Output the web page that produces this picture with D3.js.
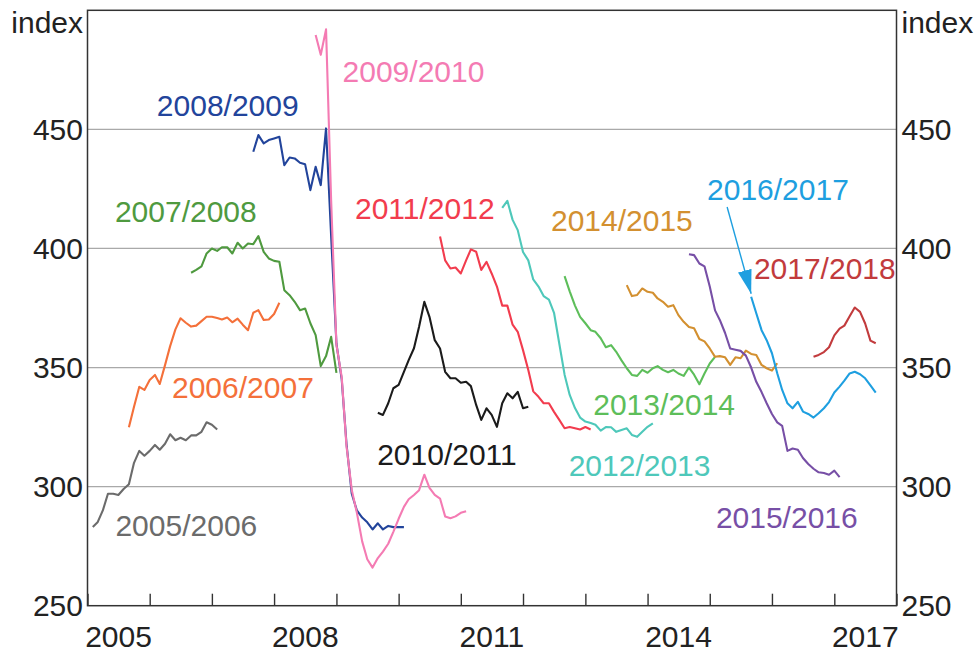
<!DOCTYPE html>
<html>
<head>
<meta charset="utf-8">
<script src="https://cdn.jsdelivr.net/npm/d3@7"></script>
<style>
  body { margin: 0; background: #fff; }
  svg { display: block; }
  text { font-family: "Liberation Sans", Arial, Helvetica, sans-serif; }
</style>
</head>
<body>
<svg id="chart" width="977" height="652"></svg>
<script>
// Monthly index values for each financial-year contract, first value at the start month below
const fy2005_06 = [283, 285, 290, 297, 297, 296.5, 299, 301, 310, 315, 313, 315, 317.5, 315.5, 318, 322, 319.5, 320.5, 319.5, 321.5, 321.5, 323, 327, 326, 324];
const fy2006_07 = [324.9, 333.5, 341.9, 340.6, 344.8, 346.9, 343.1, 351, 359, 366, 370.7, 368.8, 367.2, 367.6, 369.5, 371.3, 371.3, 370.8, 370.2, 371, 369, 370.5, 368, 365.7, 373, 374.1, 370, 370.2, 372.5, 377.2];
const fy2007_08 = [389.8, 391, 392.5, 397.9, 400, 399, 400.5, 400.5, 397.9, 402.4, 400, 402.1, 401.8, 405.2, 398.6, 395.8, 394.8, 394.4, 382.5, 380.4, 377.6, 374.1, 374.8, 368.6, 363.6, 350.6, 354.8, 362.9, 347.8];
const fy2008_09 = [440.6, 447.6, 444.1, 445.5, 446.2, 446.9, 435, 438.2, 437.8, 436, 435.4, 424.5, 434.3, 426.6, 450.4, 405, 360, 345, 318, 297, 290, 287, 285, 282, 284.6, 282, 283.5, 283, 283, 283];
const fy2009_10 = [489.6, 481.3, 492, 420, 359.5, 346, 317, 298.6, 289, 277, 269.5, 266, 270, 272.7, 276, 281, 286.5, 291.5, 294.7, 296.5, 298.5, 305, 299.5, 296.5, 295, 287.5, 286.7, 287.5, 289, 289.7];
const fy2010_11 = [331, 330.1, 335, 341.3, 342.7, 348.2, 353.1, 358.1, 367.1, 377.6, 371.3, 361.5, 358, 348.2, 345.5, 345.5, 343.6, 344, 342.2, 334.3, 328, 332.9, 330.1, 325.1, 335, 339.2, 337.1, 339.8, 332.9, 333.5];
const fy2011_12 = [405, 395, 391.6, 392, 389.5, 395, 399.6, 398.6, 391, 394.4, 389.5, 384, 376, 376, 368, 365, 357.3, 349, 340, 337.7, 335, 335, 331.4, 328, 324.5, 325, 324.5, 324, 325, 324];
const fy2012_13 = [417, 420, 412, 407.7, 398.5, 395, 387, 384, 380, 378.5, 373, 360, 347, 338.5, 333, 329, 327.3, 326.7, 326, 323.5, 325, 324.9, 323, 323.8, 324.5, 321.7, 320.9, 323, 325.1, 326.6];
const fy2013_14 = [388.4, 382, 376, 371.3, 368.6, 365.7, 365, 362.3, 358.5, 359.4, 356.6, 353, 349.7, 346.9, 346.5, 349, 347.8, 349.7, 350.6, 349, 348, 349, 347.5, 346.5, 350, 347, 343, 347.5, 351.7, 354.5];
const fy2014_15 = [384.6, 380, 380.5, 383.2, 381.8, 381.4, 379, 377.6, 375.5, 376.2, 372, 369.2, 367, 366.5, 362, 361, 358, 354.5, 354.8, 354.3, 351.1, 354.3, 353.9, 357.1, 355.7, 355.3, 351.1, 349.7, 348.7, 351.8];
const fy2015_16 = [397.6, 397.2, 393.7, 392.5, 384, 374, 370, 364.5, 358, 357.5, 357, 355, 350, 344, 339.7, 335, 330.5, 327, 325.5, 315, 316, 315.5, 312, 309.5, 307.5, 306, 305.7, 305, 306.7, 304];
const fy2016_17 = [379.7, 372.8, 365.7, 361.5, 356, 347.6, 340.6, 335, 332.9, 335.6, 331.5, 330.5, 329, 330.8, 332.9, 335.5, 339.5, 342, 344.5, 347.5, 348.2, 347.2, 345.5, 342.5, 339.5];
const fy2017_18 = [354.5, 355.3, 356.5, 358.5, 363.5, 366.3, 367.6, 371.5, 375.2, 373.4, 368.5, 361.3, 360.2];

const seriesNames  = ["2005/2006", "2006/2007", "2007/2008", "2008/2009", "2009/2010", "2010/2011", "2011/2012",
                      "2012/2013", "2013/2014", "2014/2015", "2015/2016", "2016/2017", "2017/2018"];
const seriesStarts = ["2005-02", "2005-09", "2006-09", "2007-09", "2008-09", "2009-09", "2010-09",
                      "2011-09", "2012-09", "2013-09", "2014-09", "2015-09", "2016-09"];
const seriesValues = [fy2005_06, fy2006_07, fy2007_08, fy2008_09, fy2009_10, fy2010_11, fy2011_12,
                      fy2012_13, fy2013_14, fy2014_15, fy2015_16, fy2016_17, fy2017_18];

// Axis ticks
const yTicks = [250, 300, 350, 400, 450];
const yGrid = [300, 350, 400, 450];
const xLabelYears = [2005, 2008, 2011, 2014, 2017];

// Line colours, one per contract year
const colours = {
  "2005/2006": "#6b6b6b", "2006/2007": "#f4703a", "2007/2008": "#4f9a3f", "2008/2009": "#22449b",
  "2009/2010": "#f47bb3", "2010/2011": "#1b1b1b", "2011/2012": "#f23c4e", "2012/2013": "#4ec8ba",
  "2013/2014": "#5dbe5a", "2014/2015": "#d39030", "2015/2016": "#774fa6", "2016/2017": "#1e9fe0",
  "2017/2018": "#c23b3d"
};

// Series label anchors: [decimal year of text start, baseline value]
const labelAnchors = {
  "2005/2006": [2005.45, 279.3], "2006/2007": [2006.36, 337.1], "2007/2008": [2005.44, 411.2],
  "2008/2009": [2006.115, 455.6], "2009/2010": [2009.10, 470], "2010/2011": [2009.655, 309.1],
  "2011/2012": [2009.30, 412.2], "2012/2013": [2012.735, 304.5], "2013/2014": [2013.125, 330.1],
  "2014/2015": [2012.45, 407.4], "2015/2016": [2015.10, 282.6], "2016/2017": [2014.955, 420.3],
  "2017/2018": [2015.71, 387]
};

// Pointer from the 2016/2017 label to the start of its line
const arrowFrom = [2015.28, 417.4];

const W = 977, H = 652;
const plot = { left: 87.5, right: 896.5, top: 10.3, bottom: 605.7 };
const FONT = 30;

const svg = d3.select("#chart");
const parseMonth = d3.timeParse("%Y-%m");
const fromDecimal = y => {
  const y0 = Math.floor(y);
  return new Date(y0, 0, 1 + Math.round((y - y0) * 365));
};

const x = d3.scaleTime()
  .domain([new Date(2005, 0, 1), new Date(2018, 0, 1)])
  .range([plot.left, plot.right]);
const y = d3.scaleLinear()
  .domain([250, 500])
  .range([plot.bottom, plot.top]);

// Horizontal gridlines
svg.append("g")
  .selectAll("line")
  .data(yGrid)
  .join("line")
  .attr("x1", plot.left).attr("x2", plot.right)
  .attr("y1", d => y(d)).attr("y2", d => y(d))
  .attr("stroke", "#a9a9a9").attr("stroke-width", 1.3);

// Year tick marks along the bottom, pointing into the plot
const xAxis = d3.axisBottom(x)
  .ticks(d3.timeYear.every(1))
  .tickSizeInner(-12).tickSizeOuter(0)
  .tickFormat("");
const gx = svg.append("g")
  .attr("transform", `translate(0,${plot.bottom})`)
  .call(xAxis);
gx.select(".domain").remove();
gx.selectAll(".tick line").attr("stroke", "#333").attr("stroke-width", 1.4);

// Year labels centred on each year
svg.append("g")
  .selectAll("text")
  .data(xLabelYears)
  .join("text")
  .attr("x", d => x(new Date(d, 6, 2)))
  .attr("y", 647)
  .attr("text-anchor", "middle")
  .attr("font-size", FONT)
  .attr("fill", "#222")
  .text(d => d);

// Left and right value labels
const yLabels = svg.append("g").attr("font-size", FONT).attr("fill", "#222");
yLabels.selectAll("text.l")
  .data(yTicks).join("text").attr("class", "l")
  .attr("x", 83).attr("y", d => y(d)).attr("dy", "0.35em")
  .attr("text-anchor", "end").text(d => d);
yLabels.selectAll("text.r")
  .data(yTicks).join("text").attr("class", "r")
  .attr("x", 901.5).attr("y", d => y(d)).attr("dy", "0.35em")
  .attr("text-anchor", "start").text(d => d);
yLabels.append("text").attr("x", 83).attr("y", 33).attr("text-anchor", "end").text("index");
yLabels.append("text").attr("x", 901.5).attr("y", 33).attr("text-anchor", "start").text("index");

// Contract lines
const series = seriesNames.map((name, i) => {
  const start = parseMonth(seriesStarts[i]);
  return {
    name,
    points: seriesValues[i].map((v, j) => ({ date: d3.timeMonth.offset(start, j), value: v }))
  };
});

const line = d3.line()
  .x(d => x(d.date))
  .y(d => y(d.value));

svg.append("g")
  .selectAll("path")
  .data(series)
  .join("path")
  .attr("d", d => line(d.points))
  .attr("fill", "none")
  .attr("stroke", d => colours[d.name])
  .attr("stroke-width", 2.1)
  .attr("stroke-linejoin", "round");

// Series labels
svg.append("g")
  .selectAll("text")
  .data(seriesNames)
  .join("text")
  .attr("x", d => x(fromDecimal(labelAnchors[d][0])))
  .attr("y", d => y(labelAnchors[d][1]))
  .attr("font-size", FONT)
  .attr("fill", d => colours[d])
  .text(d => d);

// Arrow to the first 2016/2017 observation
const arrowColour = colours["2016/2017"];
svg.append("defs").append("marker")
  .attr("id", "head")
  .attr("markerUnits", "userSpaceOnUse")
  .attr("viewBox", "0 0 24 14")
  .attr("refX", 24).attr("refY", 7)
  .attr("markerWidth", 24).attr("markerHeight", 14)
  .attr("orient", "auto")
  .append("path")
  .attr("d", "M0,0 L24,7 L0,14 Z")
  .attr("fill", arrowColour);

const target = series[11].points[0];
svg.append("line")
  .attr("x1", x(fromDecimal(arrowFrom[0])))
  .attr("y1", y(arrowFrom[1]))
  .attr("x2", x(target.date))
  .attr("y2", y(target.value) - 3)
  .attr("stroke", arrowColour)
  .attr("stroke-width", 1.4)
  .attr("marker-end", "url(#head)");

// Plot frame
svg.append("rect")
  .attr("x", plot.left).attr("y", plot.top)
  .attr("width", plot.right - plot.left)
  .attr("height", plot.bottom - plot.top)
  .attr("fill", "none")
  .attr("stroke", "#333")
  .attr("stroke-width", 1.5);
</script>
</body>
</html>
